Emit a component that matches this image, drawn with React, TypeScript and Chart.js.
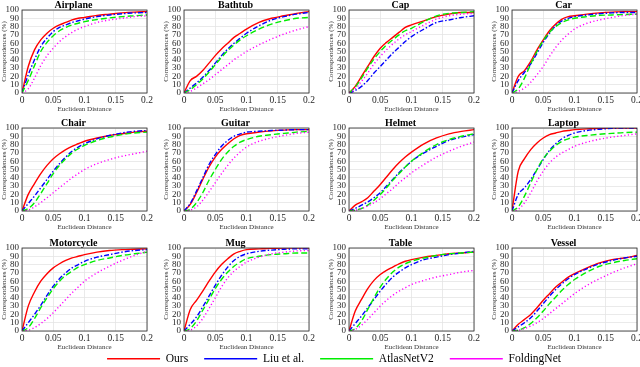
import React, { useEffect, useRef } from "react";
import { Chart, registerables } from "chart.js";

Chart.register(...registerables);

// Euclidean distance thresholds (x values)
const DIST = [0, 0.01, 0.02, 0.03, 0.04, 0.05, 0.06, 0.07, 0.08, 0.09, 0.1, 0.12, 0.14, 0.16, 0.18, 0.2];
const X_TICKS = [0, 0.05, 0.1, 0.15, 0.2];
const Y_TICKS = [0, 10, 20, 30, 40, 50, 60, 70, 80, 90, 100];
const METHODS = ["Ours", "Liu et al.", "AtlasNetV2", "FoldingNet"];

// each panel: [Ours, Liu et al., AtlasNetV2, FoldingNet]
const AIRPLANE = [
  [0, 32, 52, 64, 72, 78, 82, 85, 88, 90, 91, 93.5, 95, 96.5, 97.5, 98],
  [0, 22, 40, 56, 66, 74, 79, 82, 85, 87, 89, 92, 94, 95.5, 96.5, 97],
  [0, 15, 33, 50, 61, 69, 75, 79, 82, 84, 86, 88.5, 90.5, 92, 93, 94],
  [0, 5, 18, 33, 45, 54, 62, 68, 73, 77, 80, 85, 88, 90, 92, 93],
];
const BATHTUB = [
  [0, 15, 20, 27, 36, 45, 53, 60, 67, 72, 77, 85, 90, 93, 96, 98],
  [0, 6, 12, 19, 27, 36, 45, 53, 60, 66, 72, 81, 88, 92, 95, 97],
  [0, 4, 10, 17, 25, 34, 43, 51, 58, 64, 69, 77, 83, 87, 90, 91],
  [0, 2, 6, 11, 16, 22, 28, 34, 40, 45, 50, 58, 65, 71, 76, 80],
];
const CAP = [
  [0, 8, 20, 32, 44, 54, 61, 67, 73, 79, 82, 87, 92, 95, 97, 97],
  [0, 3, 8, 15, 24, 32, 40, 48, 55, 62, 68, 77, 85, 88, 91, 93],
  [0, 7, 18, 30, 41, 50, 58, 64, 70, 75, 78, 86, 93, 96, 97, 98],
  [0, 5, 14, 24, 35, 44, 52, 59, 65, 70, 74, 82, 89, 93, 95, 96],
];
const CAR = [
  [0, 20, 27, 38, 52, 64, 75, 83, 89, 92, 93, 95, 96.5, 97.5, 98, 98],
  [0, 15, 25, 35, 48, 61, 72, 81, 87, 90, 92, 94, 95.5, 96.5, 97, 97],
  [0, 5, 18, 35, 50, 63, 73, 80, 85, 88, 90, 92, 93.5, 94, 94.5, 95],
  [0, 2, 6, 13, 22, 32, 44, 55, 64, 71, 77, 84, 88, 91, 93.5, 95],
];
const CHAIR = [
  [0, 20, 33, 45, 55, 63, 69, 74, 78, 81, 84, 88, 91, 93, 95, 96],
  [0, 9, 18, 28, 38, 48, 57, 65, 72, 77, 81, 87, 91, 94, 96, 97],
  [0, 3, 10, 21, 33, 45, 55, 63, 70, 75, 79, 85, 89, 92, 94, 95],
  [0, 1, 5, 10, 16, 22, 28, 34, 40, 45, 50, 57, 62, 66, 69, 72],
];
const GUITAR = [
  [0, 8, 22, 38, 53, 65, 74, 81, 87, 91, 93, 95, 96.5, 97.5, 98, 98],
  [0, 9, 24, 40, 56, 68, 78, 85, 90, 93, 95, 96, 97, 97.5, 98, 98],
  [0, 2, 10, 22, 37, 50, 62, 71, 78, 83, 86, 90, 92, 93.5, 95, 96],
  [0, 1, 5, 13, 23, 34, 45, 55, 64, 71, 77, 84, 88, 91, 93.5, 95],
];
const HELMET = [
  [0, 7, 11, 16, 24, 32, 41, 50, 58, 65, 71, 81, 88, 93, 96, 98],
  [0, 3, 7, 11, 16, 22, 30, 38, 46, 53, 60, 70, 78, 85, 89, 92],
  [0, 1, 3, 7, 13, 20, 28, 37, 45, 53, 60, 71, 80, 86, 90, 93],
  [0, 1, 3, 6, 10, 15, 21, 27, 34, 40, 46, 56, 65, 72, 78, 83],
];
const LAPTOP = [
  [0, 48, 63, 74, 82, 88, 92, 94, 96, 97, 98, 99, 99.5, 100, 100, 100],
  [0, 20, 28, 38, 50, 62, 73, 81, 87, 91, 94, 97, 98.5, 99.5, 100, 100],
  [0, 5, 18, 34, 50, 63, 72, 79, 84, 87, 89, 91, 92.5, 93.5, 94.5, 95],
  [0, 2, 10, 22, 36, 48, 58, 65, 70, 74, 78, 83, 86.5, 89, 91, 93],
];
const MOTORCYCLE = [
  [0, 30, 47, 60, 69, 76, 81, 85, 88, 90, 92, 95, 97, 98, 98.5, 99],
  [0, 10, 20, 31, 43, 54, 63, 70, 76, 80, 84, 89, 92, 95, 97, 98],
  [0, 4, 15, 28, 40, 51, 60, 67, 72, 77, 80, 85, 88, 91, 93, 95],
  [0, 1, 4, 9, 15, 22, 30, 38, 46, 53, 60, 70, 78, 85, 91, 96],
];
const MUG = [
  [0, 26, 37, 48, 60, 71, 80, 87, 93, 96, 98, 99, 99.5, 100, 100, 100],
  [0, 8, 17, 29, 42, 55, 67, 77, 85, 90, 93, 96, 97.5, 98.5, 99, 99],
  [0, 3, 12, 25, 38, 51, 62, 71, 78, 83, 87, 90, 92, 93, 94, 94],
  [0, 1, 6, 15, 27, 40, 53, 64, 72, 78, 83, 89, 93, 95, 96.5, 97],
];
const TABLE = [
  [0, 24, 38, 51, 61, 68, 73, 77, 81, 84, 86, 89, 91, 93, 94, 95],
  [0, 9, 18, 28, 38, 48, 57, 65, 71, 76, 80, 86, 89, 92, 94, 96],
  [0, 3, 12, 26, 40, 53, 63, 71, 77, 81, 84, 88, 91, 93, 94, 95],
  [0, 2, 7, 14, 22, 30, 37, 43, 48, 52, 56, 61, 65, 68, 71, 73],
];
const VESSEL = [
  [0, 8, 14, 20, 28, 37, 45, 53, 59, 65, 69, 76, 82, 86, 88, 91],
  [0, 5, 10, 16, 24, 33, 42, 50, 57, 63, 68, 75, 81, 85, 88, 90],
  [0, 1, 4, 9, 16, 24, 33, 41, 49, 56, 62, 71, 78, 82, 85, 87],
  [0, 1, 3, 6, 10, 15, 21, 27, 33, 39, 45, 55, 63, 70, 76, 81],
];

const PANELS = [
  { title: "Airplane", data: AIRPLANE },
  { title: "Bathtub", data: BATHTUB },
  { title: "Cap", data: CAP },
  { title: "Car", data: CAR },
  { title: "Chair", data: CHAIR },
  { title: "Guitar", data: GUITAR },
  { title: "Helmet", data: HELMET },
  { title: "Laptop", data: LAPTOP },
  { title: "Motorcycle", data: MOTORCYCLE },
  { title: "Mug", data: MUG },
  { title: "Table", data: TABLE },
  { title: "Vessel", data: VESSEL },
];

const FONT = "'Liberation Serif', 'Times New Roman', serif";
const COLORS = ["#ff0000", "#0000ff", "#00ee00", "#ff00ff"];
const DASHES = [[], [5, 2, 1.5, 2], [6, 3], [1.2, 2.4]];
const LEGEND_DASHES = [[], [10, 3, 2, 3], [12, 6], [1.5, 3]];

const COL_LEFT = [0, 162, 327, 490];
const ROW_TOP = [0, 118, 238];
const CW = 160;
const CH = 116;

const framePlugin = {
  id: "frame",
  afterDatasetsDraw(chart: any) {
    const { ctx, chartArea: a } = chart;
    ctx.save();
    ctx.strokeStyle = "#262626";
    ctx.lineWidth = 0.8;
    ctx.strokeRect(a.left, a.top, a.right - a.left, a.bottom - a.top);
    ctx.restore();
  },
};

function Panel({ title, data, left, top }: { title: string; data: number[][]; left: number; top: number }) {
  const ref = useRef<HTMLCanvasElement>(null);
  useEffect(() => {
    const chart = new Chart(ref.current!, {
      type: "line",
      data: {
        datasets: data.map((vals, i) => ({
          label: METHODS[i],
          data: vals.map((v, k) => ({ x: DIST[k], y: v })),
          borderColor: COLORS[i],
          borderDash: DASHES[i],
          borderWidth: 1.4,
          pointRadius: 0,
          fill: false,
          cubicInterpolationMode: "monotone" as const,
        })).reverse(),
      },
      options: {
        animation: false,
        responsive: false,
        devicePixelRatio: 1,
        layout: { padding: { left: 0, right: 13, top: 0, bottom: 3 } },
        plugins: {
          legend: { display: false },
          tooltip: { enabled: false },
          title: {
            display: true,
            text: title,
            color: "#000",
            font: { family: FONT, size: 10, weight: "bold", lineHeight: 1 },
            padding: { top: 0, bottom: 0 },
          },
        },
        scales: {
          x: {
            type: "linear",
            min: 0,
            max: 0.2,
            afterBuildTicks: (s: any) => {
              s.ticks = X_TICKS.map((v) => ({ value: v }));
            },
            afterFit: (s: any) => {
              s.height = 20;
            },
            ticks: {
              autoSkip: false,
              maxRotation: 0,
              padding: 2,
              color: "#262626",
              font: { family: FONT, size: 9.5 },
              callback: (v: any) => String(+Number(v).toFixed(2)),
            },
            grid: { color: "#e4e4e4", lineWidth: 0.8, drawTicks: false },
            border: { display: false },
            title: {
              display: true,
              text: "Euclidean Distance",
              color: "#333",
              font: { family: FONT, size: 7 },
              padding: 0,
            },
          },
          y: {
            type: "linear",
            min: 0,
            max: 100,
            afterBuildTicks: (s: any) => {
              s.ticks = Y_TICKS.map((v) => ({ value: v }));
            },
            afterFit: (s: any) => {
              s.width = 22;
            },
            ticks: {
              autoSkip: false,
              padding: 3,
              color: "#262626",
              font: { family: FONT, size: 9 },
            },
            grid: { color: "#e4e4e4", lineWidth: 0.8, drawTicks: false },
            border: { display: false },
            title: {
              display: true,
              text: "Correspondences (%)",
              color: "#333",
              font: { family: FONT, size: 7 },
              padding: 0,
            },
          },
        },
      },
      plugins: [framePlugin],
    } as any);
    return () => chart.destroy();
  }, [title, data]);
  return (
    <canvas
      ref={ref}
      width={CW}
      height={CH}
      style={{ position: "absolute", left, top, width: CW, height: CH }}
    />
  );
}

function Legend() {
  const ref = useRef<HTMLCanvasElement>(null);
  useEffect(() => {
    const chart = new Chart(ref.current!, {
      type: "line",
      data: {
        datasets: METHODS.map((m, i) => ({
          label: m,
          data: [],
          borderColor: COLORS[i],
          backgroundColor: "transparent",
          borderDash: LEGEND_DASHES[i],
          borderWidth: 1.6,
          pointRadius: 0,
        })),
      },
      options: {
        animation: false,
        responsive: false,
        devicePixelRatio: 1,
        layout: { padding: 0 },
        scales: { x: { display: false }, y: { display: false } },
        plugins: {
          tooltip: { enabled: false },
          legend: {
            display: true,
            position: "top",
            maxHeight: 200,
            labels: {
              usePointStyle: true,
              pointStyle: "line",
              pointStyleWidth: 53,
              color: "#000",
              padding: 16,
              font: { family: FONT, size: 11.5 },
            },
          },
        },
      },
    } as any);
    return () => chart.destroy();
  }, []);
  return (
    <canvas
      ref={ref}
      width={640}
      height={80}
      style={{ position: "absolute", left: 14, top: 337, width: 640, height: 80 }}
    />
  );
}

export default function App() {
  return (
    <div
      style={{
        position: "fixed",
        left: 0,
        top: 0,
        width: 640,
        height: 367,
        overflow: "hidden",
        background: "#fff",
      }}
    >
      {PANELS.map((p, i) => (
        <Panel
          key={p.title}
          title={p.title}
          data={p.data}
          left={COL_LEFT[i % 4]}
          top={ROW_TOP[Math.floor(i / 4)]}
        />
      ))}
      <Legend />
    </div>
  );
}
